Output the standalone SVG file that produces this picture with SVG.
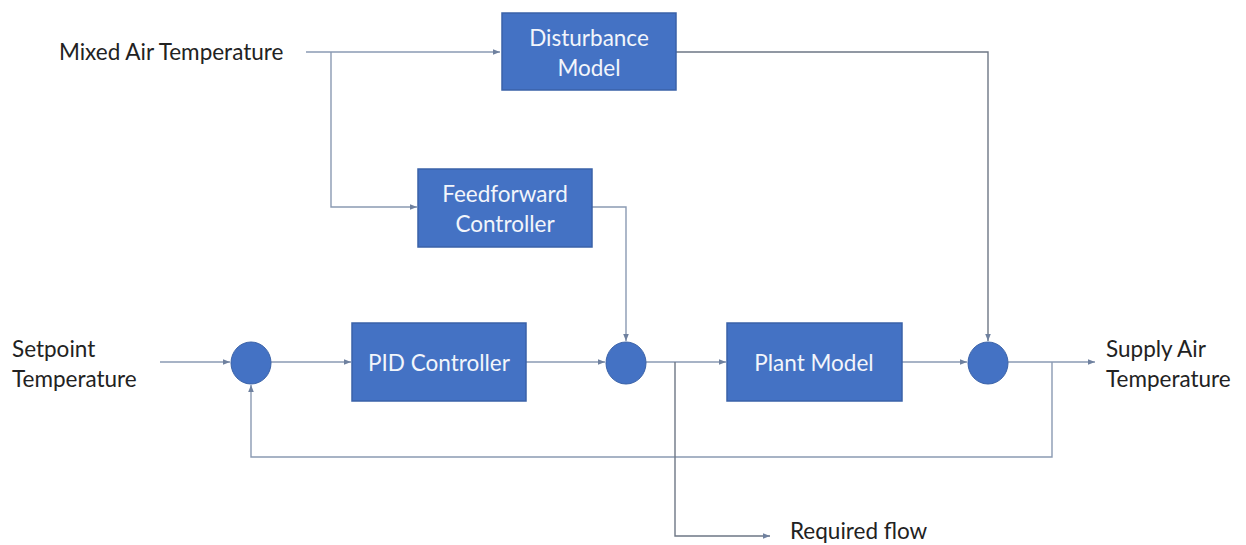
<svg xmlns="http://www.w3.org/2000/svg" width="1246" height="545" viewBox="0 0 1246 545">
<style>
.box{fill:#4472C4;stroke:#3A62A8;stroke-width:1.5}
.sum{fill:#4472C4;stroke:#3A62A8;stroke-width:1}
.bt{font-family:Lato,"Liberation Sans",sans-serif;font-size:22.5px;fill:#F2F5FB;text-anchor:middle;dominant-baseline:central}
.lt{font-family:Lato,"Liberation Sans",sans-serif;font-size:22.5px;fill:#222222;dominant-baseline:central}
.ln{fill:none;stroke:#8A9AB3;stroke-width:1.4}
.dk{stroke:#6E7785}
</style>
<defs>
<marker id="ah" viewBox="0 0 10 10" refX="10" refY="5" markerWidth="7" markerHeight="7" markerUnits="userSpaceOnUse" orient="auto">
<path d="M0,1 L10,5 L0,9 z" fill="#6F819F"/>
</marker>
</defs>
<rect width="1246" height="545" fill="#ffffff"/>
<g id="connectors">
<path class="ln" d="M306,52 H500" marker-end="url(#ah)"/>
<path class="ln" d="M331,52 V207 H417" marker-end="url(#ah)"/>
<path class="ln dk" d="M676,52 H988 V341" marker-end="url(#ah)"/>
<path class="ln" d="M592,207 H626 V341" marker-end="url(#ah)"/>
<path class="ln" d="M160,362 H230" marker-end="url(#ah)"/>
<path class="ln" d="M271,362 H351" marker-end="url(#ah)"/>
<path class="ln" d="M526,362 H605" marker-end="url(#ah)"/>
<path class="ln" d="M646,362 H726" marker-end="url(#ah)"/>
<path class="ln" d="M902,362 H967" marker-end="url(#ah)"/>
<path class="ln" d="M1008,362 H1095" marker-end="url(#ah)"/>
<path class="ln" d="M1052,362 V457 H251 V385" marker-end="url(#ah)"/>
<path class="ln dk" d="M675,362 V536 H770" marker-end="url(#ah)"/>
</g>
<g id="mixed-air-label"><text class="lt" x="59" y="51">Mixed Air Temperature</text></g>
<g id="setpoint-label"><text class="lt" x="12" y="348">Setpoint</text><text class="lt" x="12" y="378">Temperature</text></g>
<g id="supply-air-label"><text class="lt" x="1106" y="348">Supply Air</text><text class="lt" x="1106" y="378">Temperature</text></g>
<g id="required-flow-label"><text class="lt" x="790" y="530">Required flow</text></g>
<g id="disturbance-model"><rect class="box" x="502" y="13" width="174" height="77"/><text class="bt" x="589" y="37">Disturbance</text><text class="bt" x="589" y="67">Model</text></g>
<g id="feedforward-controller"><rect class="box" x="418" y="169" width="174" height="78"/><text class="bt" x="505" y="193">Feedforward</text><text class="bt" x="505" y="223">Controller</text></g>
<g id="sum1"><ellipse class="sum" cx="251" cy="363" rx="20" ry="21"/></g>
<g id="pid-controller"><rect class="box" x="352" y="323" width="174" height="78"/><text class="bt" x="439" y="362">PID Controller</text></g>
<g id="sum2"><ellipse class="sum" cx="626" cy="363" rx="20" ry="21"/></g>
<g id="plant-model"><rect class="box" x="727" y="323" width="175" height="78"/><text class="bt" x="814" y="362">Plant Model</text></g>
<g id="sum3"><ellipse class="sum" cx="988" cy="363" rx="20" ry="21"/></g>
</svg>
